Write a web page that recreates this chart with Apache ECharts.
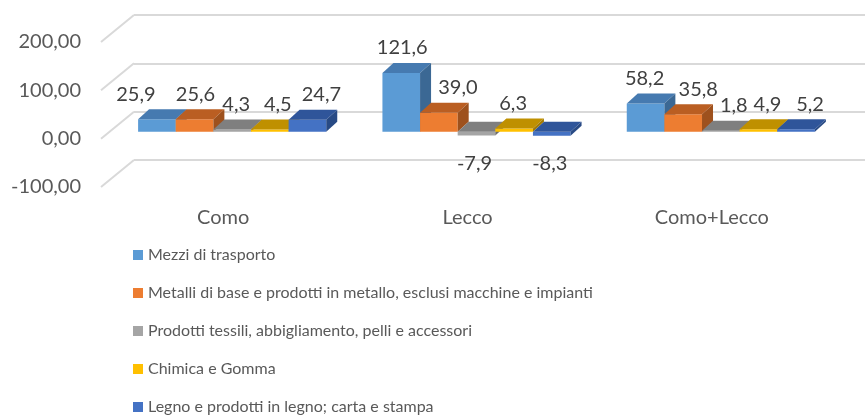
<!DOCTYPE html>
<html>
<head>
<meta charset="utf-8">
<script src="https://cdn.jsdelivr.net/npm/echarts@6/dist/echarts.min.js"></script>
<style>
  html, body { margin: 0; padding: 0; background: #fff; }
  #main { width: 865px; height: 416px; }
</style>
</head>
<body>
<div id="main"></div>
<script>
// dati
const categories = ['Como', 'Lecco', 'Como+Lecco'];
const seriesNames = [
  'Mezzi di trasporto',
  'Metalli di base e prodotti in metallo, esclusi macchine e impianti',
  'Prodotti tessili, abbigliamento, pelli e accessori',
  'Chimica e Gomma',
  'Legno e prodotti in legno; carta e stampa'
];
const mezzi = [25.9, 121.6, 58.2];
const metalli = [25.6, 39.0, 35.8];
const tessili = [4.3, -7.9, 1.8];
const chimica = [4.5, 6.3, 4.9];
const legno = [24.7, -8.3, 5.2];
const yTicks = [-100, 0, 100, 200];

const seriesValues = [mezzi, metalli, tessili, chimica, legno];

// colori facce: fronte, sopra, lato
const frontColors = ['#5B9BD5', '#ED7D31', '#A5A5A5', '#FFC000', '#4472C4'];
const topColors = ['#467AB0', '#BA5E22', '#7F7F7F', '#BF9000', '#2F559A'];
const sideColors = ['#3B6894', '#9E511D', '#6E6E6E', '#A37A00', '#284A85'];

// spostamento orizzontale etichette (come le mette Excel per evitare sovrapposizioni)
const labelDx = [
  [-21, 1, -1],
  [1, 19, 15],
  [4, -2, 13],
  [8, -1, 9],
  [14, -2, 14]
];

const fontFam = 'Lato, "Liberation Sans", sans-serif';
const depthX = 11, depthY = -10;   // profondità barra
const shiftX = 9, shiftY = -7;     // barre a metà profondità
const wallX = 33, wallY = -27;     // parete di fondo

const fmt1 = v => v.toFixed(1).replace('.', ',');
const fmt2 = v => v.toFixed(2).replace('.', ',');

let myChart = echarts.init(document.getElementById('main'));

function barRender(idx) {
  return function (params, api) {
    const cat = api.value(0);
    const val = api.value(1);
    const p0 = api.coord([cat, 0]);
    const p1 = api.coord([cat, val]);
    const w = api.size([1, 0])[0] * 0.154;
    const cx = p0[0] + (idx - 2) * w + shiftX;
    const x0 = cx - w / 2, x1 = cx + w / 2;
    const yTop = Math.min(p0[1], p1[1]) + shiftY;
    const yBot = Math.max(p0[1], p1[1]) + shiftY;
    const front = {
      type: 'rect',
      shape: { x: x0, y: yTop, width: w, height: Math.max(yBot - yTop, 0.5) },
      style: { fill: frontColors[idx] }
    };
    const top = {
      type: 'polygon',
      shape: { points: [[x0, yTop], [x0 + depthX, yTop + depthY], [x1 + depthX, yTop + depthY], [x1, yTop]] },
      style: { fill: topColors[idx] }
    };
    const side = {
      type: 'polygon',
      shape: { points: [[x1, yTop], [x1 + depthX, yTop + depthY], [x1 + depthX, yBot + depthY], [x1, yBot]] },
      style: { fill: sideColors[idx] }
    };
    const label = {
      type: 'text',
      x: cx + labelDx[idx][cat],
      y: val >= 0 ? yTop - 25 : yBot + 28,
      style: {
        text: fmt1(val),
        fill: '#404040',
        font: '20px ' + fontFam,
        align: 'center',
        verticalAlign: 'middle'
      },
      z2: 100
    };
    return { type: 'group', children: [front, top, side, label] };
  };
}

const barSeries = seriesValues.map((vals, i) => ({
  name: seriesNames[i],
  type: 'custom',
  xAxisIndex: 0,
  yAxisIndex: 0,
  itemStyle: { color: frontColors[i] },
  renderItem: barRender(i),
  data: vals.map((v, c) => [c, v]),
  z: 10
}));

// linee diagonali della parete sinistra
const diagSeries = {
  type: 'custom',
  xAxisIndex: 0,
  yAxisIndex: 0,
  silent: true,
  renderItem: (params, api) => {
    const cs = params.coordSys;
    const y = api.coord([0, api.value(0)])[1];
    return {
      type: 'line',
      shape: { x1: cs.x, y1: y, x2: cs.x + wallX, y2: y + wallY },
      style: { stroke: '#D9D9D9', lineWidth: 2 }
    };
  },
  data: yTicks.map(v => [v]),
  encode: { y: 0 },
  z: 1
};

myChart.setOption({
  animation: false,
  grid: [
    { left: 101, right: 31, top: 42, bottom: 229 },
    { left: 101 + wallX, right: 0, top: 42 + wallY, bottom: 229 - wallY }
  ],
  xAxis: [{
    type: 'category',
    gridIndex: 0,
    data: categories,
    axisLine: { show: false, onZero: false },
    axisTick: { show: false },
    splitLine: { show: false },
    axisLabel: { color: '#595959', fontSize: 20, fontFamily: fontFam, margin: 21 }
  }, {
    type: 'value',
    gridIndex: 1,
    show: false
  }],
  yAxis: [{
    type: 'value',
    gridIndex: 0,
    min: -100,
    max: 200,
    interval: 100,
    axisLine: { show: false },
    axisTick: { show: false },
    splitLine: { show: false },
    axisLabel: { color: '#595959', fontSize: 20, fontFamily: fontFam, margin: 20, formatter: fmt2 }
  }, {
    type: 'value',
    gridIndex: 1,
    min: -100,
    max: 200,
    interval: 100,
    axisLine: { show: false },
    axisTick: { show: false },
    axisLabel: { show: false },
    splitLine: { lineStyle: { color: '#D9D9D9', width: 2 } }
  }],
  legend: {
    data: seriesNames,
    orient: 'vertical',
    left: 128,
    top: 240,
    height: 200,
    itemWidth: 10,
    itemHeight: 10,
    itemGap: 18,
    icon: 'rect',
    textStyle: { color: '#595959', fontSize: 16, fontFamily: fontFam, lineHeight: 20 }
  },
  series: [diagSeries].concat(barSeries)
});

window.addEventListener('resize', () => myChart.resize());
</script>
</body>
</html>
